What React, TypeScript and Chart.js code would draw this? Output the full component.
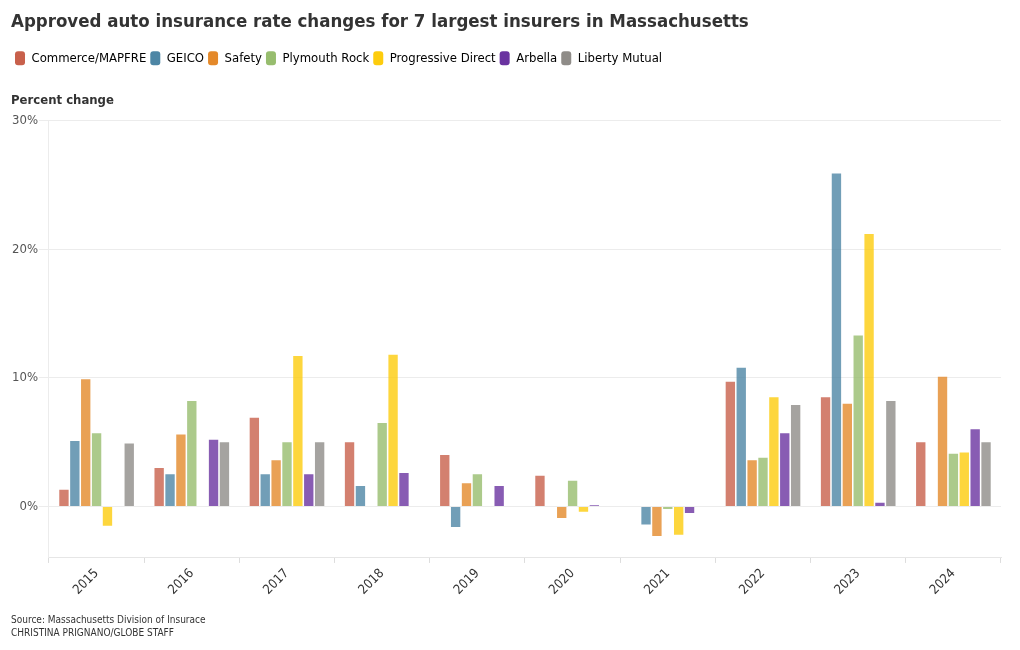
import React, { useEffect, useRef } from "react";
import { Chart, registerables } from "chart.js";

Chart.register(...registerables);

const years = ["2015", "2016", "2017", "2018", "2019", "2020", "2021", "2022", "2023", "2024"];

const commerce = [1.3, 3.0, 6.9, 5.0, 4.0, 2.4, null, 9.7, 8.5, 5.0];
const geico = [5.1, 2.5, 2.5, 1.6, -1.6, null, -1.4, 10.8, 25.9, null];
const safety = [9.9, 5.6, 3.6, null, 1.8, -0.9, -2.3, 3.6, 8.0, 10.1];
const plymouth = [5.7, 8.2, 5.0, 6.5, 2.5, 2.0, -0.2, 3.8, 13.3, 4.1];
const progressive = [-1.5, null, 11.7, 11.8, null, -0.4, -2.2, 8.5, 21.2, 4.2];
const arbella = [null, 5.2, 2.5, 2.6, 1.6, 0.1, -0.5, 5.7, 0.3, 6.0];
const liberty = [4.9, 5.0, 5.0, null, null, null, null, 7.9, 8.2, 5.0];

const yTicks = [0, 10, 20, 30];

const seriesNames = ["Commerce/MAPFRE", "GEICO", "Safety", "Plymouth Rock", "Progressive Direct", "Arbella", "Liberty Mutual"];
const seriesValues = [commerce, geico, safety, plymouth, progressive, arbella, liberty];
const seriesColors = ["#c8604b", "#4d86a5", "#e4892a", "#97bd6e", "#fdcc0d", "#6a33a0", "#8f8c88"];

const titleText = "Approved auto insurance rate changes for 7 largest insurers in Massachusetts";
const subtitleText = "Percent change";
const footerLines = ["Source: Massachusetts Division of Insurace", "CHRISTINA PRIGNANO/GLOBE STAFF"];

const FONT = "'DejaVu Sans Condensed', 'Liberation Sans Narrow', 'Roboto', sans-serif";

function hexToRgba(hex: string, a: number) {
  const n = parseInt(hex.slice(1), 16);
  return `rgba(${(n >> 16) & 255}, ${(n >> 8) & 255}, ${n & 255}, ${a})`;
}

const footerPlugin = {
  id: "footerText",
  afterDraw(chart: any) {
    const ctx = chart.ctx;
    ctx.save();
    ctx.font = `10px ${FONT}`;
    ctx.fillStyle = "#333";
    ctx.textBaseline = "middle";
    ctx.textAlign = "left";
    ctx.fillText(footerLines[0], 11, 620);
    ctx.fillText(footerLines[1], 11, 633);
    ctx.restore();
  },
};

export default function App() {
  const canvasRef = useRef<HTMLCanvasElement | null>(null);

  useEffect(() => {
    document.body.style.margin = "0";
    const canvas = canvasRef.current;
    if (!canvas) return;
    const chart = new Chart(canvas, {
      type: "bar",
      data: {
        labels: years,
        datasets: seriesNames.map((name, i) => ({
          label: name,
          data: seriesValues[i],
          backgroundColor: hexToRgba(seriesColors[i], 0.8),
          borderWidth: 0,
          barPercentage: 0.86,
          categoryPercentage: 0.8,
        })),
      },
      options: {
        responsive: false,
        animation: false,
        layout: { padding: { left: 11, right: 19, top: 0, bottom: 49 } },
        plugins: {
          tooltip: { enabled: false },
          title: {
            display: true,
            text: titleText,
            align: "start",
            color: "#333",
            font: { family: FONT, size: 18.5, weight: "bold" },
            padding: { top: 11, bottom: 14 },
          },
          subtitle: {
            display: true,
            text: subtitleText,
            align: "start",
            color: "#333",
            weight: 500,
            font: { family: FONT, size: 13, weight: "bold" },
            padding: { top: 18, bottom: 12 },
          } as any,
          legend: {
            display: true,
            position: "top",
            align: "start",
            labels: {
              boxWidth: 10,
              boxHeight: 14,
              useBorderRadius: true,
              borderRadius: 3,
              padding: 4,
              color: "#333",
              font: { family: FONT, size: 13 },
              generateLabels: () =>
                seriesNames.map((name, i) => ({
                  text: name,
                  fillStyle: seriesColors[i],
                  strokeStyle: seriesColors[i],
                  lineWidth: 0,
                  hidden: false,
                  datasetIndex: i,
                  borderRadius: 3,
                })),
            },
          } as any,
        },
        scales: {
          x: {
            grid: { display: true, drawOnChartArea: false, tickLength: 5, color: "#ddd" },
            border: { display: true, color: "#e6e6e6" },
            ticks: {
              minRotation: 45,
              maxRotation: 45,
              color: "#333",
              padding: 3,
              font: { family: FONT, size: 13 },
            },
          },
          y: {
            min: -4,
            max: 30,
            afterBuildTicks: (axis: any) => {
              axis.ticks = yTicks.map((v) => ({ value: v }));
            },
            grid: { color: "#ececec", tickLength: 10 },
            border: { display: true, color: "#ececec" },
            ticks: {
              color: "#555",
              padding: 1,
              font: { family: FONT, size: 13 },
              callback: (v: any) => `${v}%`,
            },
          },
        },
      },
      plugins: [footerPlugin],
    });
    return () => chart.destroy();
  }, []);

  return (
    <div style={{ width: 1020, height: 650, background: "#fff" }}>
      <canvas ref={canvasRef} width={1020} height={650} />
    </div>
  );
}
